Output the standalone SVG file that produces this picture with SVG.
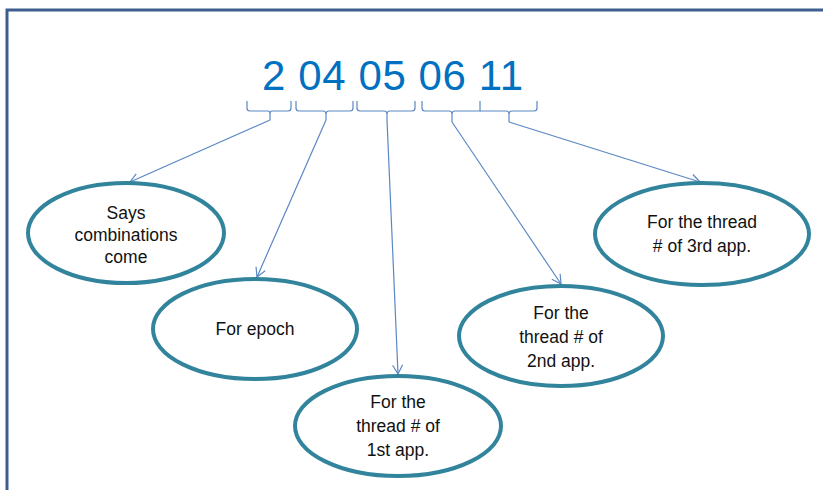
<svg xmlns="http://www.w3.org/2000/svg" width="823" height="490" viewBox="0 0 823 490">
<defs>
<style>
.frame{fill:none;stroke:#3e5f8e;stroke-width:3}
.brace{fill:none;stroke:#5b87c5;stroke-width:1.2}
.conn{fill:none;stroke:#5b87c5;stroke-width:1.2;marker-end:url(#arr)}
.node ellipse{fill:#ffffff;stroke:#31849b;stroke-width:4}
.node text{font-family:"Liberation Sans",Arial,sans-serif;font-size:17.5px;fill:#111;text-anchor:middle}
.num{font-family:"Liberation Sans",Arial,sans-serif;font-size:42px;fill:#0070c0}
</style>
<marker id="arr" markerWidth="12" markerHeight="12" refX="10" refY="6" orient="auto" markerUnits="userSpaceOnUse">
<path d="M1,1 L10,6 L1,11" fill="none" stroke="#5b87c5" stroke-width="1.2"/>
</marker>
</defs>
<rect width="823" height="490" fill="#ffffff"/>
<path class="frame" d="M7,490 V10 H823"/>
<text class="num" x="262" y="90" textLength="261">2 04 05 06 11</text>
<g id="braces">
<path class="brace" d="M247,101 V108 Q247,111 250,111 H268 Q270,111 270,114 V120 M270,114 Q270,111 272,111 H288 Q291,111 291,108 V101"/>
<path class="brace" d="M296,101 V108 Q296,111 299,111 H323 Q326,111 326,114 V120 M326,114 Q326,111 329,111 H350 Q353,111 353,108 V101"/>
<path class="brace" d="M357,101 V108 Q357,111 360,111 H384 Q387,111 387,114 V120 M387,114 Q387,111 390,111 H412 Q415,111 415,108 V101"/>
<path class="brace" d="M422,101 V108 Q422,111 425,111 H449 Q452,111 452,114 V122 M452,114 Q452,111 455,111 H480 V101"/>
<path class="brace" d="M480,111 H506 Q509,111 509,114 V122 M509,114 Q509,111 512,111 H534 Q537,111 537,108 V101"/>
</g>
<g id="connectors">
<path class="conn" d="M270,120 L130,182"/>
<path class="conn" d="M326,120 L257,277"/>
<path class="conn" d="M387,120 L398,374"/>
<path class="conn" d="M452,122 L561,284"/>
<path class="conn" d="M509,122 L700,182"/>
</g>
<g id="node-says" class="node">
<ellipse cx="126" cy="233" rx="98" ry="50"/>
<text x="126" y="219">Says</text>
<text x="126" y="241">combinations</text>
<text x="126" y="263">come</text>
</g>
<g id="node-epoch" class="node">
<ellipse cx="255" cy="329" rx="102" ry="50"/>
<text x="255" y="335">For epoch</text>
</g>
<g id="node-app1" class="node">
<ellipse cx="398" cy="426" rx="103" ry="50"/>
<text x="398" y="408">For the</text>
<text x="398" y="432">thread # of</text>
<text x="398" y="456">1st app.</text>
</g>
<g id="node-app2" class="node">
<ellipse cx="561" cy="336" rx="102" ry="50"/>
<text x="561" y="319">For the</text>
<text x="561" y="343">thread # of</text>
<text x="561" y="367">2nd app.</text>
</g>
<g id="node-app3" class="node">
<ellipse cx="702" cy="234" rx="107" ry="51"/>
<text x="702" y="228">For the thread</text>
<text x="702" y="252"># of 3rd app.</text>
</g>
</svg>
